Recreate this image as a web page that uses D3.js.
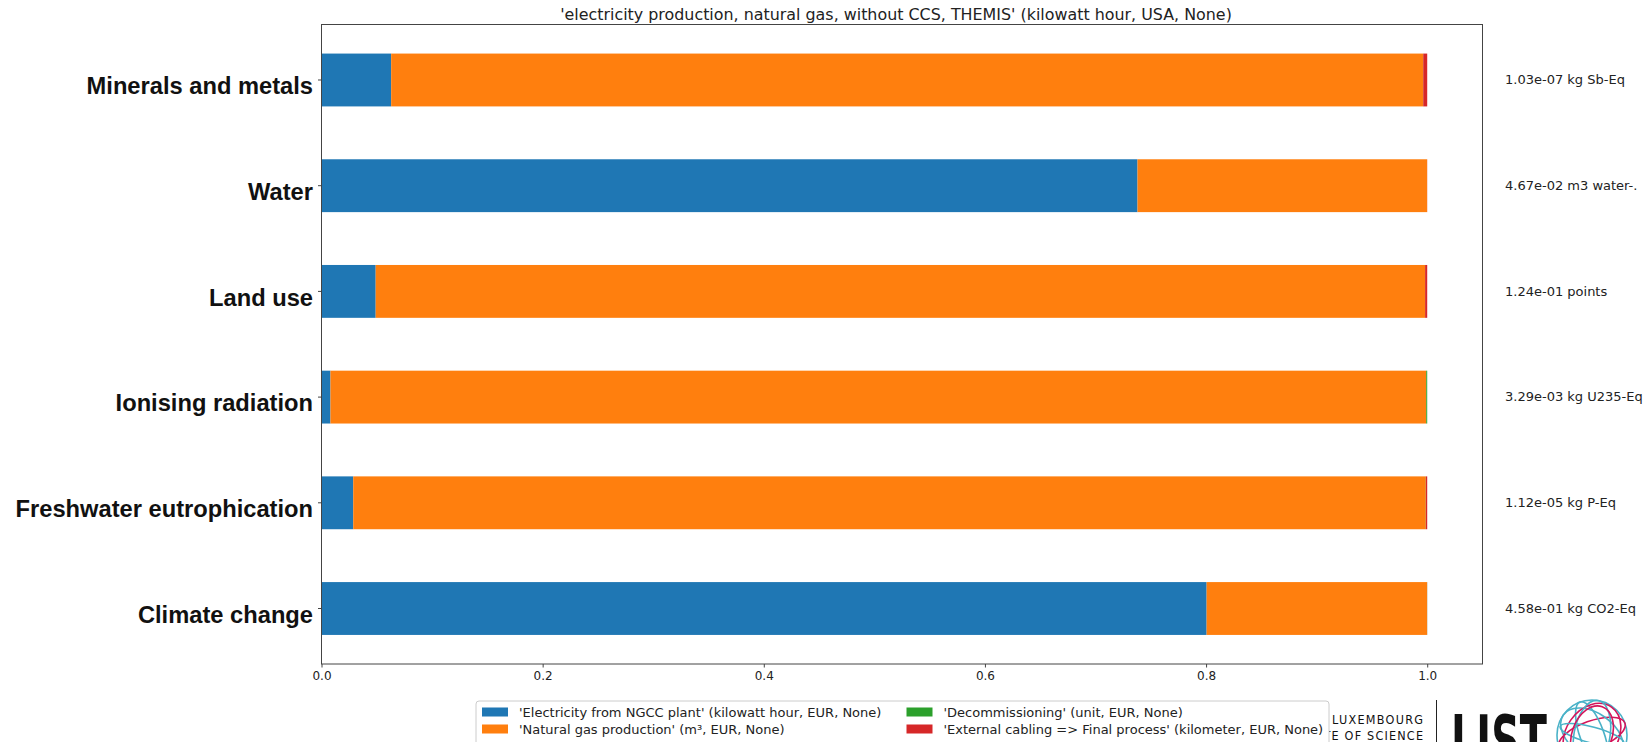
<!DOCTYPE html>
<html>
<head>
<meta charset="utf-8">
<script src="https://cdn.jsdelivr.net/npm/d3@7"></script>
<style>
  html, body { margin: 0; padding: 0; background: #fff; }
  svg { display: block; }
</style>
</head>
<body>
<svg id="chart" width="1647" height="742"></svg>
<script>
// Impact categories, top to bottom
const categories = [
  "Minerals and metals",
  "Water",
  "Land use",
  "Ionising radiation",
  "Freshwater eutrophication",
  "Climate change"
];

// Share of each contributing process in the total score of each category
const electricityNGCC   = [0.0630, 0.7380, 0.0490, 0.0081, 0.0287, 0.8005];
const naturalGas        = [0.9333, 0.2619, 0.9490, 0.9910, 0.9700, 0.1993];
const decommissioning   = [0.0001, 0.0000, 0.0001, 0.0009, 0.0001, 0.0001];
const externalCabling   = [0.0036, 0.0001, 0.0019, 0.0000, 0.0012, 0.0001];

// Total impact per category, printed right of the plot
const totals = [
  "1.03e-07 kg Sb-Eq",
  "4.67e-02 m3 water-.",
  "1.24e-01 points",
  "3.29e-03 kg U235-Eq",
  "1.12e-05 kg P-Eq",
  "4.58e-01 kg CO2-Eq"
];

const seriesNames = [
  "'Electricity from NGCC plant' (kilowatt hour, EUR, None)",
  "'Natural gas production' (m³, EUR, None)",
  "'Decommissioning' (unit, EUR, None)",
  "'External cabling => Final process' (kilometer, EUR, None)"
];
const seriesColors = ["#1f77b4", "#ff7f0e", "#2ca02c", "#d62728"];

const xTicks = [0, 0.2, 0.4, 0.6, 0.8, 1.0];

const title = "'electricity production, natural gas, without CCS, THEMIS' (kilowatt hour, USA, None)";

// ---------------------------------------------------------------------
const svg = d3.select("#chart");
const plot = { left: 321.5, right: 1482.5, top: 24.5, bottom: 664 };

const rows = categories.map((c, i) => ({
  category: c,
  s0: electricityNGCC[i],
  s1: naturalGas[i],
  s2: decommissioning[i],
  s3: externalCabling[i]
}));
const keys = ["s0", "s1", "s2", "s3"];
const stacked = d3.stack().keys(keys)(rows);

const x = d3.scaleLinear().domain([0, 1.05]).range([plot.left, plot.right]);
const y = d3.scaleBand()
  .domain(categories)
  .range([plot.top, plot.bottom])
  .paddingInner(0.5)
  .paddingOuter(0.275);

// Title
svg.append("text")
  .attr("x", 896)
  .attr("y", 19.5)
  .attr("text-anchor", "middle")
  .attr("font-family", "DejaVu Sans")
  .attr("font-size", 15.9)
  .attr("fill", "#222")
  .text(title);

// Bars
svg.append("g")
  .selectAll("g")
  .data(stacked)
  .join("g")
  .attr("fill", (d, i) => seriesColors[i])
  .selectAll("rect")
  .data(d => d)
  .join("rect")
  .attr("x", d => x(d[0]))
  .attr("y", d => y(d.data.category))
  .attr("width", d => Math.max(0, x(d[1]) - x(d[0])))
  .attr("height", y.bandwidth());

// Frame
svg.append("rect")
  .attr("x", plot.left)
  .attr("y", plot.top)
  .attr("width", plot.right - plot.left)
  .attr("height", plot.bottom - plot.top)
  .attr("fill", "none")
  .attr("stroke", "#444")
  .attr("stroke-width", 1);

// X axis
const xAxis = svg.append("g")
  .attr("transform", `translate(0,${plot.bottom})`)
  .call(d3.axisBottom(x).tickValues(xTicks).tickFormat(d3.format(".1f")).tickSize(3.5).tickPadding(4));
xAxis.select(".domain").remove();
xAxis.selectAll("line").attr("stroke", "#444");
xAxis.selectAll("text")
  .attr("font-family", "DejaVu Sans")
  .attr("font-size", 12)
  .attr("fill", "#222");

// Y axis
const yAxis = svg.append("g")
  .attr("transform", `translate(${plot.left},0)`)
  .call(d3.axisLeft(y).tickSize(3.5).tickPadding(5));
yAxis.select(".domain").remove();
yAxis.selectAll("line").attr("stroke", "#444");
yAxis.selectAll("text")
  .attr("font-family", "Liberation Sans, Arial, sans-serif")
  .attr("font-weight", "bold")
  .attr("font-size", 23.7)
  .attr("fill", "#111")
  .attr("dy", "0.6em");

// Totals on the right
svg.append("g")
  .selectAll("text")
  .data(categories)
  .join("text")
  .attr("x", 1505)
  .attr("y", d => y(d) + y.bandwidth() / 2)
  .attr("dy", "0.33em")
  .attr("font-family", "DejaVu Sans")
  .attr("font-size", 13)
  .attr("fill", "#222")
  .text((d, i) => totals[i]);

// Institute logo (bottom right, partly under the legend)
const logo = svg.append("g");
logo.append("text")
  .attr("x", 1423).attr("y", 724.3)
  .attr("text-anchor", "end")
  .attr("font-family", "DejaVu Sans Condensed, DejaVu Sans")
  .attr("font-size", 12.5)
  .attr("textLength", 91).attr("lengthAdjust", "spacing")
  .attr("fill", "#111")
  .text("LUXEMBOURG");
logo.append("text")
  .attr("x", 1423).attr("y", 740)
  .attr("text-anchor", "end")
  .attr("font-family", "DejaVu Sans Condensed, DejaVu Sans")
  .attr("font-size", 12.5)
  .attr("textLength", 152).attr("lengthAdjust", "spacing")
  .attr("fill", "#111")
  .text("INSTITUTE OF SCIENCE");
logo.append("line")
  .attr("x1", 1436.5).attr("x2", 1436.5)
  .attr("y1", 700).attr("y2", 742)
  .attr("stroke", "#222").attr("stroke-width", 1);
logo.append("text")
  .attr("x", 1451).attr("y", 765)
  .attr("font-family", "DejaVu Sans Condensed, DejaVu Sans")
  .attr("font-weight", "bold")
  .attr("font-size", 70)
  .attr("textLength", 96).attr("lengthAdjust", "spacingAndGlyphs")
  .attr("fill", "#111")
  .text("LIST");

// Sphere of interlaced orbits
const sphere = logo.append("g").attr("transform", "translate(1592,735)");
const orbits = [
  { rx: 35, ry: 35, rot: 0, c: "#4ab2c8" },
  { rx: 35, ry: 14, rot: -20, c: "#d4145a" },
  { rx: 35, ry: 22, rot: 35, c: "#4ab2c8" },
  { rx: 35, ry: 12, rot: 70, c: "#4ab2c8" },
  { rx: 34, ry: 26, rot: -55, c: "#d4145a" },
  { rx: 33, ry: 8, rot: 15, c: "#4ab2c8" },
  { rx: 35, ry: 18, rot: -80, c: "#4ab2c8" },
  { rx: 30, ry: 20, rot: 110, c: "#d4145a" }
];
sphere.selectAll("ellipse")
  .data(orbits)
  .join("ellipse")
  .attr("rx", d => d.rx)
  .attr("ry", d => d.ry)
  .attr("transform", d => `rotate(${d.rot})`)
  .attr("fill", "none")
  .attr("stroke", d => d.c)
  .attr("stroke-width", 1.6);

// Legend (opaque, drawn over the logo's left part)
const legend = svg.append("g").attr("transform", "translate(476,701)");
legend.append("rect")
  .attr("x", 0).attr("y", 0)
  .attr("width", 853).attr("height", 60)
  .attr("rx", 3)
  .attr("fill", "#fff")
  .attr("stroke", "#ccc");
const legendPos = [
  { x: 6, y: 0 }, { x: 6, y: 1 }, { x: 430.5, y: 0 }, { x: 430.5, y: 1 }
];
const entries = legend.selectAll("g.entry")
  .data(seriesNames)
  .join("g")
  .attr("class", "entry")
  .attr("transform", (d, i) => `translate(${legendPos[i].x},${6.5 + legendPos[i].y * 17})`);
entries.append("rect")
  .attr("width", 26).attr("height", 9)
  .attr("fill", (d, i) => seriesColors[i]);
entries.append("text")
  .attr("x", 37)
  .attr("y", 4.5)
  .attr("dy", "0.36em")
  .attr("font-family", "DejaVu Sans")
  .attr("font-size", 13)
  .attr("fill", "#222")
  .text(d => d);
</script>
</body>
</html>
